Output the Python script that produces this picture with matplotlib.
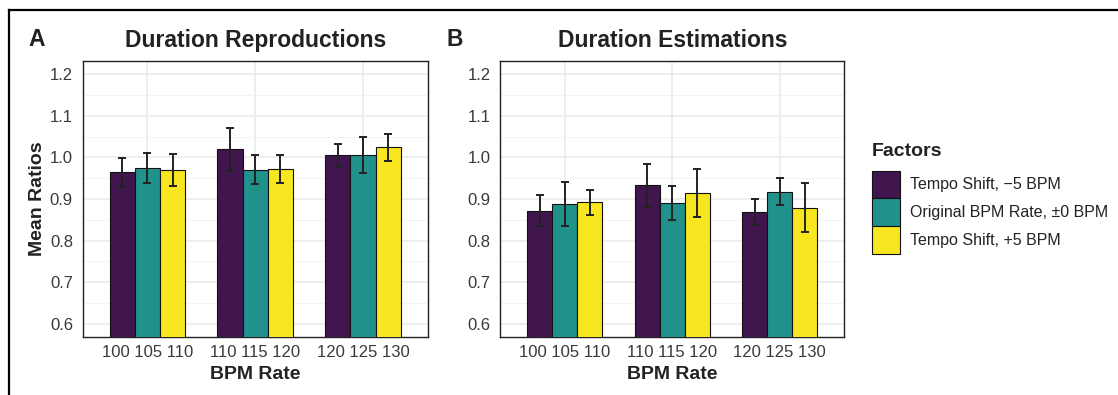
import matplotlib
matplotlib.use('Agg')
import matplotlib.pyplot as plt
from matplotlib.patches import Patch
from matplotlib.lines import Line2D
import numpy as np

plt.rcParams['font.family'] = ['Liberation Sans', 'DejaVu Sans']

# data
groups = ['100 105 110', '110 115 120', '120 125 130']
factors = ['Tempo Shift, \u22125 BPM', 'Original BPM Rate, \u00b10 BPM', 'Tempo Shift, +5 BPM']
colors = ['#41164F', '#21918C', '#F8E620']

repro_mean = [[0.964, 1.019, 1.005],
              [0.975, 0.970, 1.006],
              [0.970, 0.973, 1.024]]
repro_err = [[0.035, 0.051, 0.027],
             [0.036, 0.035, 0.044],
             [0.0385, 0.0335, 0.0325]]

estim_mean = [[0.872, 0.933, 0.868],
              [0.888, 0.890, 0.918],
              [0.892, 0.914, 0.879]]
estim_err = [[0.038, 0.052, 0.031],
             [0.053, 0.041, 0.033],
             [0.0295, 0.057, 0.0585]]

W, H = 1118, 395
fig = plt.figure(figsize=(W / 100, H / 100), dpi=100)

txt = '#222222'
tick_col = '#3a3a3a'


def panel(ax, means, errs, title):
    x = np.arange(1, len(groups) + 1)
    bw = 0.7 / 3
    for k in range(3):
        pos = x + (k - 1) * bw
        ax.bar(pos, means[k], width=bw, color=colors[k], edgecolor='#111111',
               linewidth=0.8, zorder=3)
        ax.errorbar(pos, means[k], yerr=errs[k], fmt='none', ecolor='#222222',
                    elinewidth=1.4, capsize=2.6, capthick=1.4, zorder=4)
    ax.set_xlim(0.4, 3.6)
    ax.set_ylim(0.5695, 1.2305)
    ax.set_yticks([0.6, 0.7, 0.8, 0.9, 1.0, 1.1, 1.2])
    ax.set_yticks([0.65, 0.75, 0.85, 0.95, 1.05, 1.15], minor=True)
    ax.set_xticks(x)
    ax.set_xticklabels(groups)
    ax.grid(True, which='major', color='#EBEBEB', linewidth=1.2, zorder=0)
    ax.grid(True, which='minor', axis='y', color='#F3F3F3', linewidth=0.7, zorder=0)
    ax.tick_params(axis='both', which='both', length=0, labelsize=12,
                   labelcolor=tick_col)
    ax.tick_params(axis='y', pad=7)
    ax.tick_params(axis='x', pad=6)
    for s in ax.spines.values():
        s.set_color('#222222')
        s.set_linewidth(1.0)
    ax.set_xlabel('BPM Rate', fontsize=14, fontweight='bold', color=txt, labelpad=4)
    ax.set_title(title, fontsize=16.5, fontweight='bold', color=txt, pad=10.5)


axA = fig.add_axes([82.7 / W, 1 - 336.7 / H, 345 / W, 275.4 / H])
axB = fig.add_axes([500.3 / W, 1 - 336.7 / H, 344 / W, 275.4 / H])

panel(axA, repro_mean, repro_err, 'Duration Reproductions')
panel(axB, estim_mean, estim_err, 'Duration Estimations')
axA.set_ylabel('Mean Ratios', fontsize=14, fontweight='bold', color=txt, labelpad=3)

fig.text(28 / W, 1 - 39 / H, 'A', fontsize=16.5, fontweight='bold', color=txt,
         ha='left', va='center')
fig.text(446 / W, 1 - 39 / H, 'B', fontsize=16.5, fontweight='bold', color=txt,
         ha='left', va='center')

# legend: title as text, keys as a frameless legend
fig.text(872 / W, 1 - 151 / H, 'Factors', fontsize=14, fontweight='bold',
         color=txt, ha='left', va='center')
handles = [Patch(facecolor=c, edgecolor='#111111', linewidth=0.8) for c in colors]
leg = fig.legend(handles, factors, loc='upper left',
                 bbox_to_anchor=(872 / W, 1 - 170.5 / H), frameon=False,
                 fontsize=11.5, handlelength=1.75, handleheight=2.32,
                 labelspacing=0.0, handletextpad=0.6, borderpad=0,
                 borderaxespad=0)
for t in leg.get_texts():
    t.set_color(txt)

# outer frame (top and left edges)
fig.add_artist(Line2D([9 / W, 1], [1 - 10 / H, 1 - 10 / H], color='black',
                      linewidth=1.6, transform=fig.transFigure))
fig.add_artist(Line2D([9 / W, 9 / W], [0, 1 - 10 / H], color='black',
                      linewidth=1.6, transform=fig.transFigure))

fig.savefig('out.png', dpi=100)
